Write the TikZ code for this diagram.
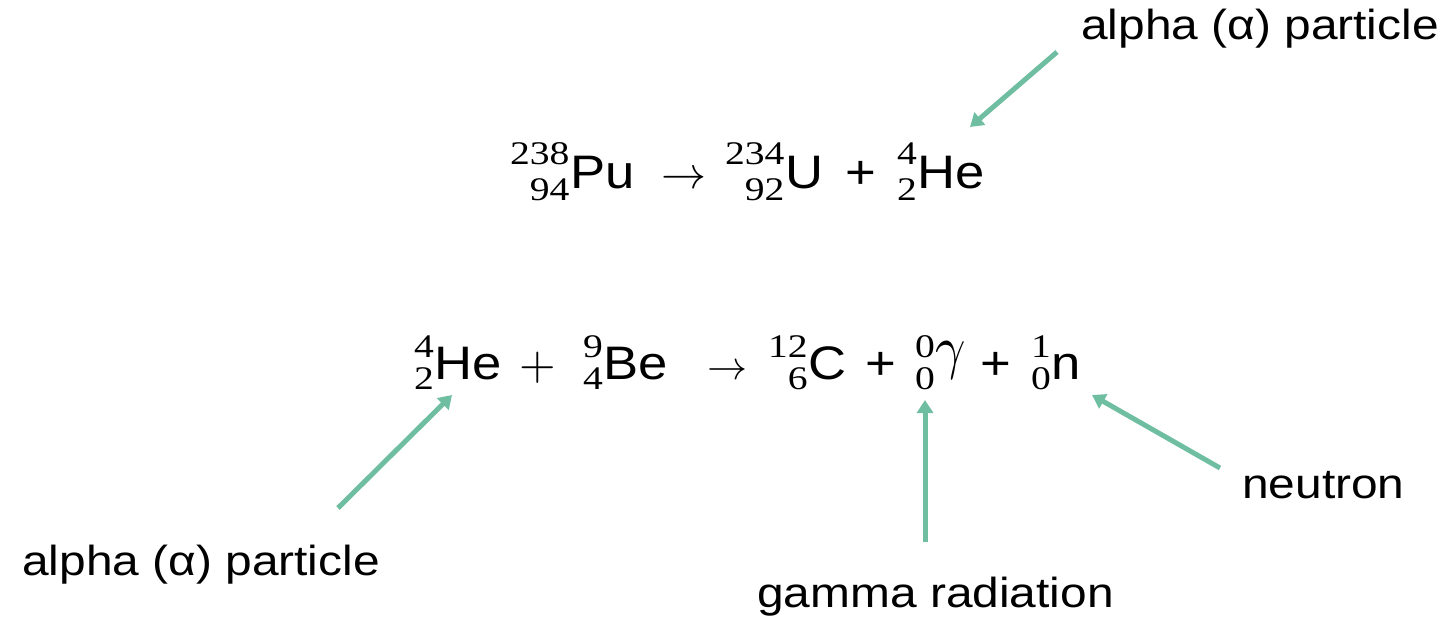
\documentclass[tikz,border=0pt]{standalone}
\usepackage{fontspec}
\usepackage{graphicx}
\usetikzlibrary{arrows.meta}
\newfontfamily\scrfont[FakeStretch=1.2]{Liberation Serif}
\newfontfamily\eqfont[FakeStretch=1.12]{Liberation Sans}
\newfontfamily\labfont[FakeStretch=1.14]{Liberation Sans}
\definecolor{mint}{RGB}{112,190,162}
\def\supr{24pt}\def\subl{12pt}
\newcommand\nucl[3]{\setbox0=\hbox{\fontsize{33}{33}\scrfont #1}\setbox2=\hbox{\fontsize{33}{33}\scrfont #2}%
\ifdim\wd0>\wd2 \dimen0=\wd0 \else \dimen0=\wd2 \fi
\hbox to \dimen0{\hss\raise\supr\hbox to 0pt{\hss\box0}\lower\subl\hbox to 0pt{\hss\box2}}\kern1pt{\fontsize{47}{47}\eqfont #3}}
\tikzset{
  piece/.style={anchor=base west, inner sep=0pt, outer sep=0pt},
  eqtwo/.style={piece, execute at begin node={\def\supr{22pt}\def\subl{10pt}}},
  lab/.style={anchor=base west, inner sep=0pt, font=\fontsize{42}{42}\labfont},
  sansplus/.style={piece, font=\fontsize{47}{47}\eqfont},
  pointer/.style={draw=mint, line width=5pt, -{Triangle[length=13pt,width=16pt]}}
}
\begin{document}
\begin{tikzpicture}[x=1pt,y=-1pt]
\useasboundingbox (0,0) rectangle (1450,623);
% equation 1
\node[piece] (i1) at (510,188) {\nucl{238}{94}{Pu}};
\node[piece] (r1) at (661,188) {\scalebox{4.5}{$\rightarrow$}};
\node[piece] (i2) at (725,188) {\nucl{234}{92}{U}};
\node[sansplus] (p1) at (845,188) {+};
\node[piece] (i3) at (897,188) {\nucl{4}{2}{He}};
% equation 2
\node[eqtwo] (j1) at (414,379) {\nucl{4}{2}{He}};
\node[piece] (q1) at (519,379) {\scalebox{4.7}{$+$}};
\node[eqtwo] (j2) at (583,379) {\nucl{9}{4}{Be}};
\node[piece] (r2) at (707,379) {\scalebox{4}{$\rightarrow$}};
\node[eqtwo] (j3) at (768,379) {\nucl{12}{6}{C}};
\node[sansplus] (p2) at (865,379) {+};
\node[eqtwo] (j4) at (915,379) {\nucl{0}{0}{\normalsize\raisebox{12pt}{\scalebox{5.3}[6]{$\gamma$}}}};
\node[sansplus] (p3) at (980,379) {+};
\node[eqtwo] (j5) at (1031,379) {\nucl{1}{0}{n}};
% labels
\node[lab] (l1) at (1081,40) {alpha (α) particle};
\node[lab] (l2) at (22,575) {alpha (α) particle};
\node[lab] (l3) at (757,607) {gamma radiation};
\node[lab] (l4) at (1242,498) {neutron};
% pointers
\coordinate (a1s) at (1057,52);  \coordinate (a1e) at (970,127);
\coordinate (a2s) at (338,508);  \coordinate (a2e) at (452,395);
\coordinate (a3s) at (925,542);  \coordinate (a3e) at (925,400);
\coordinate (a4s) at (1220,468); \coordinate (a4e) at (1092,395);
\draw[pointer] (a1s) -- (a1e);
\draw[pointer] (a2s) -- (a2e);
\draw[pointer] (a3s) -- (a3e);
\draw[pointer] (a4s) -- (a4e);
\end{tikzpicture}
\end{document}
